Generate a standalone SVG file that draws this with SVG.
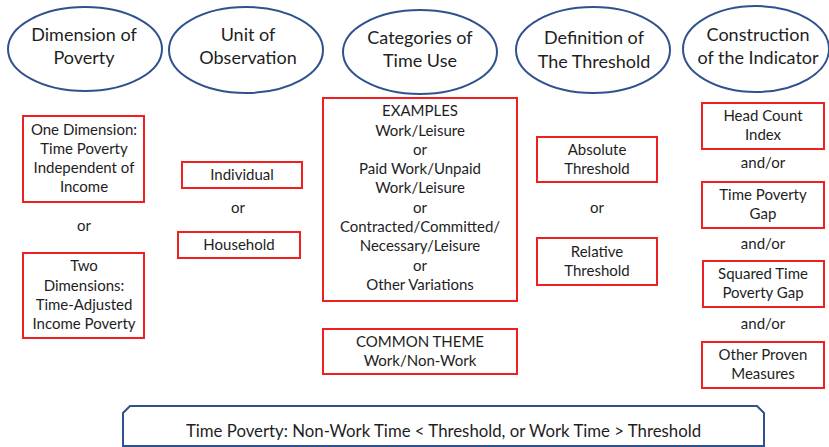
<svg xmlns="http://www.w3.org/2000/svg" width="829" height="447" viewBox="0 0 829 447">
<style>
.el{fill:#fff;stroke:#2f528f;stroke-width:2}
.bx{fill:#fff;stroke:#f02020;stroke-width:2}
.h{font-family:Lato,"Liberation Sans",sans-serif;font-size:18px;fill:#1e1e1e;text-anchor:middle}
.t{font-family:Lato,"Liberation Sans",sans-serif;font-size:15px;fill:#1e1e1e;text-anchor:middle}
.b{font-family:Lato,"Liberation Sans",sans-serif;font-size:16.8px;fill:#1e1e1e;text-anchor:middle}
</style>
<rect width="829" height="447" fill="#fff"/>
<g id="h1"><ellipse class="el" cx="85" cy="49" rx="77" ry="42"/><text class="h" x="84" y="41">Dimension of</text><text class="h" x="84" y="64">Poverty</text></g>
<g id="h2"><ellipse class="el" cx="246" cy="50" rx="77" ry="43"/><text class="h" x="248" y="41">Unit of</text><text class="h" x="248" y="64">Observation</text></g>
<g id="h3"><ellipse class="el" cx="420" cy="52" rx="77" ry="42"/><text class="h" x="420" y="44">Categories of</text><text class="h" x="420" y="67">Time Use</text></g>
<g id="h4"><ellipse class="el" cx="593" cy="50" rx="77" ry="43"/><text class="h" x="594" y="44">Definition of</text><text class="h" x="594" y="68">The Threshold</text></g>
<g id="h5"><ellipse class="el" cx="756" cy="49" rx="73" ry="43"/><text class="h" x="758" y="41">Construction</text><text class="h" x="758" y="64">of the Indicator</text></g>

<g id="dim1"><rect class="bx" x="23" y="116" width="121" height="86"/><text class="t" x="84" y="135">One Dimension:</text><text class="t" x="84" y="154">Time Poverty</text><text class="t" x="84" y="173">Independent of</text><text class="t" x="84" y="192">Income</text></g>
<text class="t" x="84" y="231">or</text>
<g id="dim2"><rect class="bx" x="23" y="253" width="121" height="85"/><text class="t" x="84" y="271">Two</text><text class="t" x="84" y="291">Dimensions:</text><text class="t" x="84" y="310">Time-Adjusted</text><text class="t" x="84" y="329">Income Poverty</text></g>

<g id="unit1"><rect class="bx" x="182" y="162" width="120" height="26"/><text class="t" x="242" y="180">Individual</text></g>
<text class="t" x="238" y="213">or</text>
<g id="unit2"><rect class="bx" x="178" y="232" width="122" height="26"/><text class="t" x="239" y="250">Household</text></g>

<g id="cat1"><rect class="bx" x="323" y="98" width="194" height="203"/>
<text class="t" x="420" y="116">EXAMPLES</text><text class="t" x="420" y="135.5">Work/Leisure</text><text class="t" x="420" y="155">or</text><text class="t" x="420" y="174">Paid Work/Unpaid</text><text class="t" x="420" y="193">Work/Leisure</text><text class="t" x="420" y="213">or</text><text class="t" x="420" y="232">Contracted/Committed/</text><text class="t" x="420" y="251">Necessary/Leisure</text><text class="t" x="420" y="271">or</text><text class="t" x="420" y="290">Other Variations</text></g>
<g id="cat2"><rect class="bx" x="323" y="329" width="194" height="45"/><text class="t" x="420" y="347">COMMON THEME</text><text class="t" x="420" y="366">Work/Non-Work</text></g>

<g id="thr1"><rect class="bx" x="537" y="137" width="120" height="45"/><text class="t" x="597" y="155">Absolute</text><text class="t" x="597" y="174">Threshold</text></g>
<text class="t" x="597" y="213">or</text>
<g id="thr2"><rect class="bx" x="537" y="238" width="120" height="47"/><text class="t" x="597" y="257">Relative</text><text class="t" x="597" y="276">Threshold</text></g>

<g id="ind1"><rect class="bx" x="702" y="103" width="122" height="46"/><text class="t" x="763" y="121">Head Count</text><text class="t" x="763" y="140">Index</text></g>
<text class="t" x="763" y="168">and/or</text>
<g id="ind2"><rect class="bx" x="702" y="182" width="122" height="46"/><text class="t" x="763" y="200">Time Poverty</text><text class="t" x="763" y="219">Gap</text></g>
<text class="t" x="763" y="249">and/or</text>
<g id="ind3"><rect class="bx" x="703" y="261" width="121" height="46"/><text class="t" x="763" y="279">Squared Time</text><text class="t" x="763" y="298">Poverty Gap</text></g>
<text class="t" x="763" y="329">and/or</text>
<g id="ind4"><rect class="bx" x="702" y="342" width="122" height="46"/><text class="t" x="763" y="360">Other Proven</text><text class="t" x="763" y="379">Measures</text></g>

<g id="summary"><path d="M123,446 V413 L130,406 H757 L764,413 V446 Z" fill="#fff" stroke="#2f528f" stroke-width="2"/><text class="b" x="443.5" y="437">Time Poverty: Non-Work Time &lt; Threshold, or Work Time &gt; Threshold</text></g>
<g id="connectors"/>
</svg>
